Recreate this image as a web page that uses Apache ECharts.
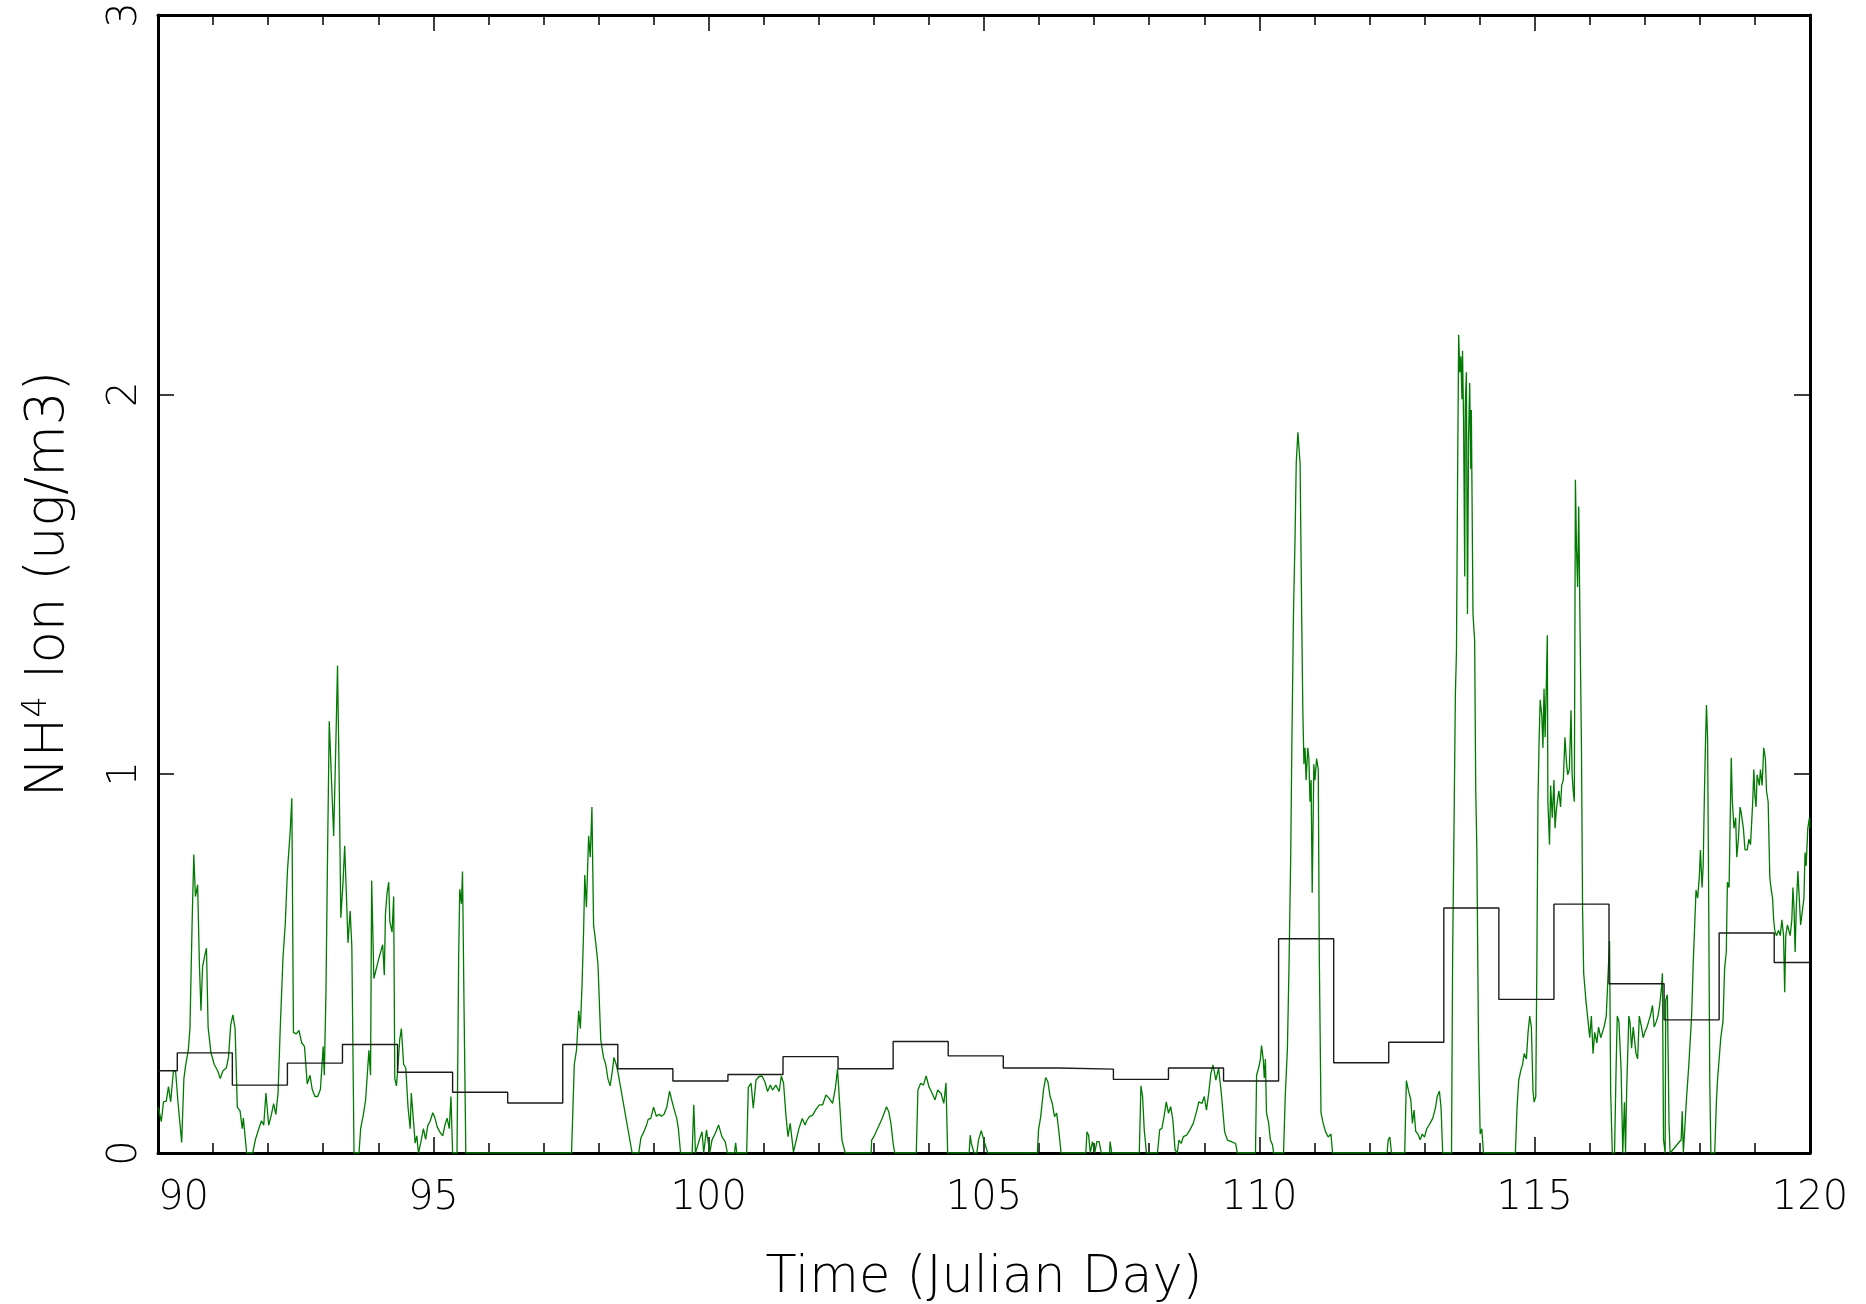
<!DOCTYPE html>
<html>
<head>
<meta charset="utf-8">
<script src="https://cdn.jsdelivr.net/npm/echarts@6/dist/echarts.min.js"></script>
<style>
html,body{margin:0;padding:0;background:#fff;}
#chart{width:1866px;height:1304px;}
</style>
</head>
<body>
<div id="chart"></div>
<script>
// Daily mean (step) — start of each sampling interval and its mean value
const dailyStart = [90, 90.35, 91.35, 92.35, 93.35, 94.35, 95.35, 96.35, 97.35, 98.35, 99.35,
  100.35, 101.35, 102.35, 103.35, 104.35, 105.35, 106.35, 107.35, 108.35, 109.35,
  110.35, 111.35, 112.35, 113.35, 114.35, 115.35, 116.35, 117.35, 118.35, 119.35, 120];
const dailyMean = [0.217, 0.264, 0.179, 0.237, 0.286, 0.213, 0.160, 0.132, 0.286, 0.222, 0.190,
  0.207, 0.254, 0.222, 0.294, 0.256, 0.224, 0.221, 0.194, 0.224, 0.190,
  0.565, 0.238, 0.292, 0.646, 0.405, 0.656, 0.446, 0.351, 0.580, 0.502, 0.502];

// High-resolution NH4 ion record: [Julian day, ug/m3]
const nh4Points = [
[90.00,0.12],[90.02,0.111],[90.06,0.083],[90.10,0.135],[90.15,0.137],[90.19,0.175],[90.23,0.135],
[90.28,0.217],[90.32,0.215],[90.36,0.139],[90.43,0.028],[90.47,0.196],[90.50,0.229],[90.55,0.271],
[90.58,0.328],[90.62,0.61],[90.65,0.787],[90.68,0.676],[90.72,0.707],[90.75,0.507],[90.78,0.375],
[90.81,0.492],[90.85,0.521],[90.88,0.54],[90.91,0.332],[90.96,0.266],[91.02,0.234],[91.09,0.215],
[91.13,0.196],[91.18,0.217],[91.24,0.224],[91.28,0.252],[91.32,0.337],[91.36,0.364],[91.40,0.328],
[91.44,0.121],[91.49,0.111],[91.53,0.064],[91.55,0.092],[91.61,0],[91.72,0],[91.77,0.036],
[91.83,0.064],[91.88,0.085],[91.92,0.073],[91.96,0.158],[92.01,0.073],[92.06,0.102],[92.10,0.13],
[92.14,0.102],[92.18,0.158],[92.22,0.328],[92.27,0.516],[92.31,0.601],[92.35,0.742],[92.40,0.846],
[92.43,0.935],[92.46,0.318],[92.51,0.314],[92.56,0.323],[92.61,0.29],[92.66,0.281],[92.71,0.182],
[92.76,0.205],[92.80,0.168],[92.85,0.149],[92.90,0.149],[92.95,0.168],[93.00,0.281],[93.02,0.205],
[93.05,0.422],[93.08,0.798],[93.11,1.138],[93.16,0.949],[93.19,0.836],[93.23,1.081],[93.26,1.285],
[93.29,0.987],[93.32,0.62],[93.36,0.714],[93.39,0.81],[93.42,0.686],[93.45,0.554],[93.49,0.638],
[93.52,0.544],[93.56,0],[93.65,0],[93.68,0.064],[93.73,0.102],[93.77,0.139],[93.80,0.205],
[93.83,0.271],[93.86,0.205],[93.88,0.718],[93.92,0.46],[94.00,0.507],[94.08,0.549],[94.11,0.469],
[94.13,0.629],[94.16,0.686],[94.19,0.714],[94.21,0.61],[94.25,0.582],[94.28,0.676],[94.30,0.196],
[94.33,0.177],[94.36,0.234],[94.39,0.299],[94.42,0.328],[94.46,0.234],[94.50,0.224],[94.54,0.121],
[94.58,0.064],[94.60,0.158],[94.63,0.102],[94.67,0.026],[94.70,0.045],[94.73,0],[94.77,0.026],
[94.82,0.064],[94.86,0.036],[94.90,0.073],[94.94,0.083],[94.99,0.106],[95.03,0.092],[95.07,0.069],
[95.12,0.055],[95.17,0.045],[95.21,0.073],[95.25,0.092],[95.29,0.064],[95.32,0.149],[95.35,0],
[95.43,0],[95.46,0.516],[95.48,0.695],[95.51,0.657],[95.53,0.742],[95.56,0.356],[95.59,0],
[97.51,0],[97.56,0.234],[97.60,0.271],[97.64,0.375],[97.67,0.328],[97.70,0.441],[97.73,0.591],
[97.75,0.733],[97.78,0.648],[97.82,0.836],[97.85,0.78],[97.88,0.912],[97.91,0.601],[97.95,0.554],
[97.99,0.497],[98.04,0.299],[98.09,0.252],[98.13,0.234],[98.17,0.196],[98.21,0.177],[98.25,0.215],
[98.28,0.252],[98.32,0.234],[98.35,0.215],[98.61,0],[98.73,0],[98.77,0.04],[98.82,0.055],
[98.87,0.073],[98.90,0.088],[98.95,0.092],[99.00,0.121],[99.05,0.097],[99.10,0.102],[99.14,0.097],
[99.19,0.102],[99.24,0.121],[99.29,0.163],[99.33,0.139],[99.38,0.111],[99.42,0.092],[99.45,0.064],
[99.49,0],[99.70,0],[99.73,0.127],[99.76,0],[99.83,0.034],[99.88,0.056],[99.91,0],[99.96,0.061],
[100.02,0],[100.06,0.034],[100.12,0.052],[100.18,0.074],[100.24,0.043],[100.30,0.03],[100.34,0],
[100.47,0],[100.49,0.027],[100.51,0],[100.69,0],[100.72,0.173],[100.77,0.184],[100.81,0.118],
[100.86,0.192],[100.91,0.201],[100.97,0.203],[101.02,0.188],[101.07,0.162],[101.12,0.179],
[101.16,0.166],[101.22,0.179],[101.28,0.162],[101.32,0.203],[101.36,0.184],[101.40,0.105],
[101.44,0.043],[101.48,0.078],[101.54,0.003],[101.57,0],[101.59,0.034],[101.64,0.065],[101.70,0.091],
[101.75,0.074],[101.78,0.085],[101.83,0.096],[101.89,0.1],[101.94,0.113],[102.01,0.127],[102.07,0.127],
[102.13,0.153],[102.19,0.144],[102.25,0.131],[102.30,0.17],[102.34,0.221],[102.42,0.034],[102.48,0],
[102.95,0],[102.96,0.034],[103.00,0.043],[103.07,0.065],[103.15,0.091],[103.23,0.122],[103.27,0.109],
[103.31,0.078],[103.35,0.025],[103.38,0],[103.77,0],[103.80,0.166],[103.85,0.184],[103.90,0.179],
[103.95,0.203],[104.00,0.175],[104.06,0.157],[104.11,0.14],[104.16,0.166],[104.22,0.157],
[104.27,0.131],[104.31,0.185],[104.34,0],[104.73,0],[104.75,0.047],[104.77,0.025],[104.82,0],
[104.87,0],[104.90,0.034],[104.95,0.059],[105.00,0.032],[105.03,0.036],[105.07,0],[105.97,0],
[105.99,0.061],[106.03,0.096],[106.08,0.166],[106.12,0.199],[106.16,0.188],[106.20,0.149],
[106.24,0.131],[106.28,0.096],[106.32,0.105],[106.36,0.056],[106.40,0],[106.85,0],[106.87,0.056],
[106.90,0.047],[106.93,0],[106.97,0.03],[107.01,0],[107.05,0.03],[107.09,0.03],[107.13,0],
[107.28,0],[107.29,0.03],[107.32,0],[107.82,0],[107.85,0.177],[107.88,0.149],[107.91,0.061],
[107.95,0],[108.15,0],[108.19,0.061],[108.23,0.065],[108.27,0.096],[108.31,0.135],[108.35,0.105],
[108.39,0.122],[108.43,0.087],[108.47,0.008],[108.51,0],[108.54,0.034],[108.58,0.025],[108.62,0.043],
[108.68,0.047],[108.74,0.061],[108.80,0.078],[108.86,0.109],[108.90,0.135],[108.96,0.131],
[109.00,0.149],[109.04,0.113],[109.08,0.157],[109.12,0.21],[109.16,0.232],[109.21,0.192],
[109.26,0.223],[109.31,0.157],[109.37,0.056],[109.42,0.034],[109.49,0.03],[109.57,0.025],[109.60,0],
[109.93,0],[109.95,0.205],[109.99,0.226],[110.02,0.248],[110.04,0.283],[110.07,0.248],[110.09,0.198],
[110.11,0.248],[110.13,0.106],[110.17,0.078],[110.20,0.035],[110.24,0.021],[110.26,0],[110.44,0],
[110.47,0.149],[110.51,0.276],[110.54,0.502],[110.57,0.785],[110.59,1.068],[110.62,1.421],
[110.65,1.634],[110.67,1.818],[110.70,1.9],[110.72,1.895],[110.74,1.818],[110.77,1.407],
[110.79,1.167],[110.81,1.025],[110.83,1.068],[110.85,0.983],[110.88,1.068],[110.90,1.04],
[110.92,0.926],[110.94,0.983],[110.96,0.686],[110.99,1.025],[111.01,0.983],[111.04,1.04],
[111.07,1.011],[111.09,0.502],[111.12,0.106],[111.16,0.078],[111.20,0.057],[111.25,0.042],
[111.30,0.05],[111.33,0],[112.32,0],[112.34,0.035],[112.37,0.042],[112.40,0],[112.64,0],
[112.67,0.191],[112.71,0.163],[112.75,0.141],[112.78,0.078],[112.81,0.113],[112.84,0.057],
[112.88,0.05],[112.92,0.035],[112.96,0.05],[113.00,0.042],[113.04,0.064],[113.10,0.078],
[113.15,0.092],[113.20,0.12],[113.23,0.149],[113.27,0.163],[113.30,0.12],[113.33,0],[113.49,0],
[113.51,0.516],[113.53,0.785],[113.56,1.209],[113.58,1.322],[113.60,1.775],[113.62,2.157],
[113.64,2.058],[113.66,2.1],[113.68,1.987],[113.69,2.115],[113.71,1.917],[113.73,1.52],
[113.74,1.973],[113.76,2.058],[113.78,1.421],[113.80,1.888],[113.82,2.03],[113.84,1.803],
[113.85,1.959],[113.88,1.421],[113.91,1.351],[113.93,0.955],[113.95,0.799],[113.98,0.29],
[114.01,0.05],[114.04,0.064],[114.07,0],[114.65,0],[114.68,0.12],[114.71,0.191],[114.75,0.219],
[114.78,0.233],[114.81,0.262],[114.85,0.248],[114.88,0.318],[114.91,0.361],[114.94,0.332],
[114.97,0.163],[114.99,0.134],[115.02,0.149],[115.04,0.502],[115.06,0.926],[115.08,1.082],
[115.10,1.195],[115.13,1.153],[115.15,1.068],[115.17,1.224],[115.19,1.096],[115.21,1.224],
[115.23,1.365],[115.24,0.926],[115.27,0.813],[115.29,0.969],[115.32,0.884],[115.35,0.983],
[115.37,0.856],[115.39,0.898],[115.41,0.926],[115.44,0.955],[115.47,0.912],[115.49,0.969],
[115.52,0.983],[115.55,1.096],[115.58,1.025],[115.60,0.997],[115.63,1.011],[115.66,1.167],
[115.68,0.997],[115.70,0.955],[115.72,0.926],[115.74,1.775],[115.76,1.591],[115.78,1.492],
[115.80,1.704],[115.82,1.436],[115.85,1.068],[115.87,0.644],[115.89,0.474],[115.93,0.403],
[115.96,0.361],[116.00,0.304],[116.03,0.361],[116.06,0.262],[116.09,0.318],[116.13,0.29],
[116.16,0.332],[116.20,0.304],[116.23,0.318],[116.26,0.332],[116.30,0.361],[116.33,0.46],
[116.36,0.559],[116.38,0.163],[116.41,0],[116.45,0],[116.48,0.233],[116.50,0.361],[116.53,0.347],
[116.57,0.219],[116.60,0],[116.63,0.134],[116.65,0],[116.67,0.163],[116.69,0.262],[116.71,0.361],
[116.73,0.347],[116.76,0.276],[116.79,0.332],[116.81,0.304],[116.84,0.262],[116.87,0.248],
[116.90,0.361],[116.94,0.332],[116.97,0.304],[117.00,0.318],[117.04,0.332],[117.07,0.347],
[117.10,0.361],[117.14,0.389],[117.17,0.332],[117.21,0.347],[117.24,0.361],[117.27,0.389],
[117.30,0.431],[117.32,0.474],[117.34,0.035],[117.37,0],[117.38,0.403],[117.41,0.417],[117.44,0.078],
[117.46,0],[117.66,0.035],[117.68,0.11],[117.70,0],[117.72,0],[117.76,0.15],[117.80,0.233],
[117.83,0.23],[117.85,0.361],[117.88,0.502],[117.91,0.615],[117.93,0.693],[117.96,0.672],
[117.99,0.728],[118.01,0.799],[118.04,0.7],[118.06,0.757],[118.08,0.926],[118.10,1.068],
[118.12,1.181],[118.14,1.096],[118.16,0.672],[118.18,0.191],[118.20,0],[118.27,0],[118.30,0.134],
[118.32,0.191],[118.35,0.248],[118.38,0.304],[118.42,0.347],[118.45,0.488],[118.48,0.53],
[118.50,0.714],[118.53,0.70],[118.57,1.042],[118.59,0.926],[118.62,0.856],[118.65,0.884],
[118.67,0.78],[118.70,0.827],[118.73,0.912],[118.75,0.898],[118.79,0.856],[118.82,0.799],
[118.86,0.799],[118.89,0.827],[118.92,0.813],[118.96,0.926],[118.98,1.011],[119.00,0.941],
[119.02,0.912],[119.04,0.997],[119.08,0.969],[119.10,1.011],[119.13,0.969],[119.16,1.068],
[119.19,1.04],[119.21,0.955],[119.24,0.926],[119.27,0.728],[119.29,0.70],[119.32,0.672],
[119.34,0.615],[119.36,0.587],[119.39,0.573],[119.43,0.587],[119.46,0.573],[119.49,0.615],
[119.52,0.573],[119.54,0.424],[119.56,0.573],[119.59,0.601],[119.62,0.601],[119.64,0.573],
[119.67,0.615],[119.69,0.70],[119.71,0.644],[119.73,0.53],[119.75,0.644],[119.78,0.743],
[119.80,0.686],[119.83,0.601],[119.86,0.601],[119.89,0.672],[119.91,0.792],[119.93,0.757],
[119.96,0.856],[119.99,0.884],[120.00,0.856]
];

const xTickValues = [90, 95, 100, 105, 110, 115, 120];
const yTickValues = [0, 1, 2, 3];

const FONT = "'DejaVu Sans', sans-serif";
const stepData = dailyStart.map((d, i) => [d, dailyMean[i]]);

const chart = echarts.init(document.getElementById('chart'), null, {renderer: 'canvas'});

const axisLine = {show: true, onZero: false, lineStyle: {color: '#000', width: 3}};
const tickStyle = {color: '#000', width: 1.5};

chart.setOption({
  animation: false,
  backgroundColor: '#fff',
  grid: {left: 158, right: 56, top: 15, bottom: 151, containLabel: false, outerBoundsMode: 'none'},
  xAxis: [{
    type: 'value', min: 90, max: 120, interval: 5, position: 'bottom',
    axisLine: axisLine,
    axisTick: {show: true, inside: true, length: 16, lineStyle: tickStyle},
    minorTick: {show: true, splitNumber: 5, length: 10, lineStyle: tickStyle},
    splitLine: {show: false},
    axisLabel: {show: true, margin: 26, fontSize: 40, fontFamily: FONT, fontWeight: 200, color: '#000',
      alignMinLabel: 'left', formatter: v => xTickValues.includes(v) ? String(v) : ''},
    name: 'Time (Julian Day)', nameLocation: 'middle', nameGap: 100,
    nameTextStyle: {fontSize: 51, fontFamily: FONT, fontWeight: 200, color: '#000'}
  }, {
    type: 'value', min: 90, max: 120, interval: 5, position: 'top',
    axisLine: axisLine,
    axisTick: {show: true, inside: true, length: 16, lineStyle: tickStyle},
    minorTick: {show: true, splitNumber: 5, length: 10, lineStyle: tickStyle},
    splitLine: {show: false}, axisLabel: {show: false}
  }],
  yAxis: [{
    type: 'value', min: 0, max: 3, interval: 1, position: 'left',
    axisLine: axisLine,
    axisTick: {show: true, inside: true, length: 16, lineStyle: tickStyle},
    splitLine: {show: false},
    axisLabel: {show: true, rotate: 90, margin: 12, fontSize: 40, fontFamily: FONT, fontWeight: 200, color: '#000',
      formatter: v => yTickValues.includes(v) ? String(v) : ''},
    name: '{n|NH}{s|4}{n| Ion (ug/m3)}', nameLocation: 'middle', nameGap: 80, nameRotate: 90,
    nameTextStyle: {fontSize: 53, fontFamily: FONT, fontWeight: 200, color: '#000',
      rich: {
        n: {fontSize: 53, fontFamily: FONT, fontWeight: 200, color: '#000'},
        s: {fontSize: 34, fontFamily: FONT, fontWeight: 200, color: '#000', verticalAlign: 'top', padding: [0, 0, 24, 0]}
      }}
  }, {
    type: 'value', min: 0, max: 3, interval: 1, position: 'right',
    axisLine: axisLine,
    axisTick: {show: true, inside: true, length: 16, lineStyle: tickStyle},
    splitLine: {show: false}, axisLabel: {show: false}
  }],
  series: [{
    type: 'line', name: 'NH4', data: nh4Points, xAxisIndex: 0, yAxisIndex: 0,
    showSymbol: false, symbol: 'none', clip: true,
    lineStyle: {color: '#007a00', width: 1.3}, z: 2
  }, {
    type: 'line', name: 'Daily', data: stepData, step: 'end', xAxisIndex: 0, yAxisIndex: 0,
    showSymbol: false, symbol: 'none', clip: true,
    lineStyle: {color: '#1a1a1a', width: 1.4}, z: 3
  }]
});
</script>
</body>
</html>
